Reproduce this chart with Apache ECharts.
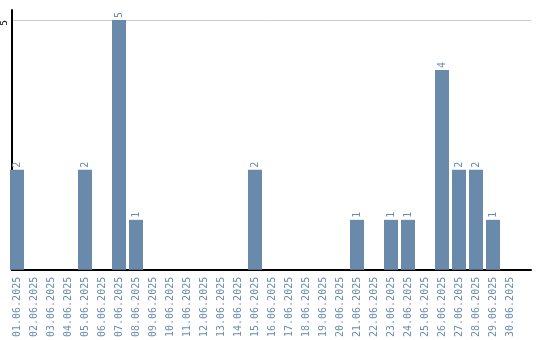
<!DOCTYPE html>
<html>
<head>
<meta charset="utf-8">
<script src="https://cdn.jsdelivr.net/npm/echarts@6/dist/echarts.min.js"></script>
<style>html,body{margin:0;padding:0;background:#fff}#c{width:540px;height:340px}</style>
</head>
<body>
<div id="c"></div>
<script>
const categories = ["01.06.2025","02.06.2025","03.06.2025","04.06.2025","05.06.2025","06.06.2025","07.06.2025","08.06.2025","09.06.2025","10.06.2025","11.06.2025","12.06.2025","13.06.2025","14.06.2025","15.06.2025","16.06.2025","17.06.2025","18.06.2025","19.06.2025","20.06.2025","21.06.2025","22.06.2025","23.06.2025","24.06.2025","25.06.2025","26.06.2025","27.06.2025","28.06.2025","29.06.2025","30.06.2025"];
const counts = [2,0,0,0,2,0,5,1,0,0,0,0,0,0,2,0,0,0,0,0,1,0,1,1,0,4,2,2,1,0];
const yMax = 5.2;
const yInterval = 5;

const barColor = '#6a8aab';
const labelColor = '#6c8cad';

const chart = echarts.init(document.getElementById('c'), null, {renderer: 'canvas'});
chart.setOption({
  animation: false,
  grid: [
    {left: 8.5, top: 10, width: 510, bottom: 70},
    {left: 10, top: 10, right: 9, bottom: 70}
  ],
  xAxis: [
    {
      type: 'category', gridIndex: 0, data: categories,
      axisLine: {show: false}, axisTick: {show: false},
      axisLabel: {interval: 0, rotate: 90, margin: 7, color: labelColor,
        fontFamily: 'DejaVu Sans Mono', fontSize: 10}
    },
    {
      type: 'value', gridIndex: 1, min: 0, max: 1,
      axisLine: {show: true, lineStyle: {color: '#000', width: 2}},
      axisTick: {show: false}, axisLabel: {show: false}, splitLine: {show: false}
    }
  ],
  yAxis: [
    {type: 'value', gridIndex: 0, min: 0, max: yMax, show: false},
    {
      type: 'value', gridIndex: 1, min: 0, max: yMax, interval: yInterval,
      axisLine: {show: true, lineStyle: {color: '#000', width: 2}},
      axisTick: {show: false},
      axisLabel: {rotate: 90, margin: 3, color: '#000', fontSize: 9, align: 'right',
        fontFamily: 'DejaVu Sans', showMinLabel: false, showMaxLabel: false,
        formatter: v => (v === yInterval ? String(v) : '')},
      splitLine: {show: true, showMinLine: false, showMaxLine: false,
        lineStyle: {color: '#cccccc', width: 1}}
    }
  ],
  series: [{
    type: 'bar', xAxisIndex: 0, yAxisIndex: 0, data: counts,
    barWidth: 14,
    itemStyle: {color: barColor},
    label: {show: true, position: 'top', rotate: 90, align: 'left', verticalAlign: 'middle',
      distance: 2, color: labelColor, fontFamily: 'DejaVu Sans Mono', fontSize: 10,
      formatter: p => (p.value ? String(p.value) : '')}
  }]
});
</script>
</body>
</html>
